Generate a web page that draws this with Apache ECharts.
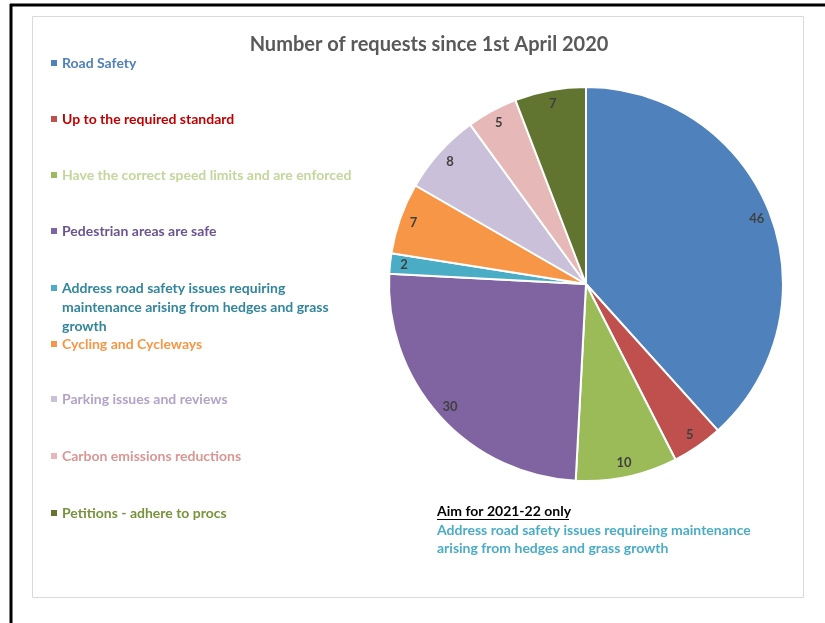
<!DOCTYPE html>
<html>
<head>
<meta charset="utf-8">
<script src="https://cdn.jsdelivr.net/npm/echarts@6/dist/echarts.min.js"></script>
<style>
html,body{margin:0;padding:0;background:#fff;}
#chart{width:825px;height:623px;}
</style>
</head>
<body>
<div id="chart"></div>
<script>
const categories = [
  'Road Safety',
  'Up to the required standard',
  'Have the correct speed limits and are enforced',
  'Pedestrian areas are safe',
  'Address road safety issues requiring\nmaintenance arising from hedges and grass\ngrowth',
  'Cycling and Cycleways',
  'Parking issues and reviews',
  'Carbon emissions reductions',
  'Petitions - adhere to procs'
];
const values = [46, 5, 10, 30, 2, 7, 8, 5, 7];
const sliceColors = ['#4f81bd', '#c0504d', '#9bbb59', '#8064a2', '#4bacc6', '#f79646', '#cbc0da', '#e6b9b8', '#617530'];
const legendTextColors = ['#4f81bd', '#c00000', '#c3d69b', '#6b5491', '#31859c', '#f79646', '#b3a2c7', '#d99694', '#77933c'];
const legendTops = [63, 119, 175, 231, 288, 344, 399, 456, 513];

const FONT = 'Lato, "Open Sans", sans-serif';
const chart = echarts.init(document.getElementById('chart'), null, {renderer: 'canvas'});

const pieData = categories.map((c, i) => ({name: c, value: values[i], itemStyle: {color: sliceColors[i]}}));

const LH = 19;
const legends = categories.map((c, i) => {
  const lines = c.split('\n').length;
  const multi = lines > 1;
  const ih = multi ? (lines - 1) * LH + 6 : 6;
  return {
    orient: 'vertical',
    left: 51,
    top: legendTops[i] - (multi ? LH / 2 : 8),
    itemWidth: 6,
    itemHeight: ih,
    icon: multi ? 'path://M0,0L6,0L6,6L0,6Z M0,' + ih + 'L0,' + ih : 'rect',
    selectedMode: false,
    padding: 0,
    textStyle: {
      color: legendTextColors[i],
      fontFamily: FONT,
      fontWeight: 'bold',
      fontSize: 14,
      lineHeight: multi ? LH : 16
    },
    data: [{name: c, itemStyle: {color: sliceColors[i], borderWidth: 0}}]
  };
});

const option = {
  backgroundColor: '#ffffff',
  animation: false,
  title: {
    text: 'Number of requests since 1st April 2020',
    left: 424,
    textAlign: 'center',
    top: 30,
    textStyle: {color: '#595959', fontFamily: FONT, fontWeight: 'bold', fontSize: 20}
  },
  legend: legends,
  graphic: [
    {type: 'line', shape: {x1: 10, y1: 5, x2: 825, y2: 5}, style: {stroke: '#000', lineWidth: 3}, silent: true},
    {type: 'line', shape: {x1: 11, y1: 4, x2: 11, y2: 623}, style: {stroke: '#000', lineWidth: 3}, silent: true},
    {type: 'rect', shape: {x: 32.5, y: 16.5, width: 771, height: 581}, style: {fill: 'none', stroke: '#d9d9d9', lineWidth: 1}, silent: true, z: -1},
    {type: 'text', left: 437, top: 504, style: {text: 'Aim for 2021-22 only', fill: '#000', font: 'bold 14px ' + FONT}},
    {type: 'line', shape: {x1: 437, y1: 519.5, x2: 569, y2: 519.5}, style: {stroke: '#000', lineWidth: 1}, silent: true},
    {type: 'text', left: 437, top: 521, style: {text: 'Address road safety issues requireing maintenance\narising from hedges and grass growth', fill: '#4bacc6', font: 'bold 14px ' + FONT, lineHeight: 18}}
  ],
  series: [
    {
      type: 'pie',
      center: [586, 284],
      radius: [0, 197],
      startAngle: 90,
      clockwise: true,
      avoidLabelOverlap: false,
      itemStyle: {borderColor: '#ffffff', borderWidth: 2},
      label: {show: false},
      labelLine: {show: false},
      emphasis: {disabled: true},
      data: pieData
    },
    {
      type: 'pie',
      center: [586, 284],
      radius: [163, 197],
      startAngle: 90,
      clockwise: true,
      silent: true,
      avoidLabelOverlap: false,
      itemStyle: {color: 'rgba(0,0,0,0)', borderWidth: 0},
      label: {show: true, position: 'inside', formatter: '{c}', color: '#404040', fontFamily: FONT, fontWeight: 'bold', fontSize: 13},
      labelLine: {show: false},
      emphasis: {disabled: true},
      data: categories.map((c, i) => ({name: c, value: values[i]}))
    }
  ]
};
chart.setOption(option);
</script>
</body>
</html>
